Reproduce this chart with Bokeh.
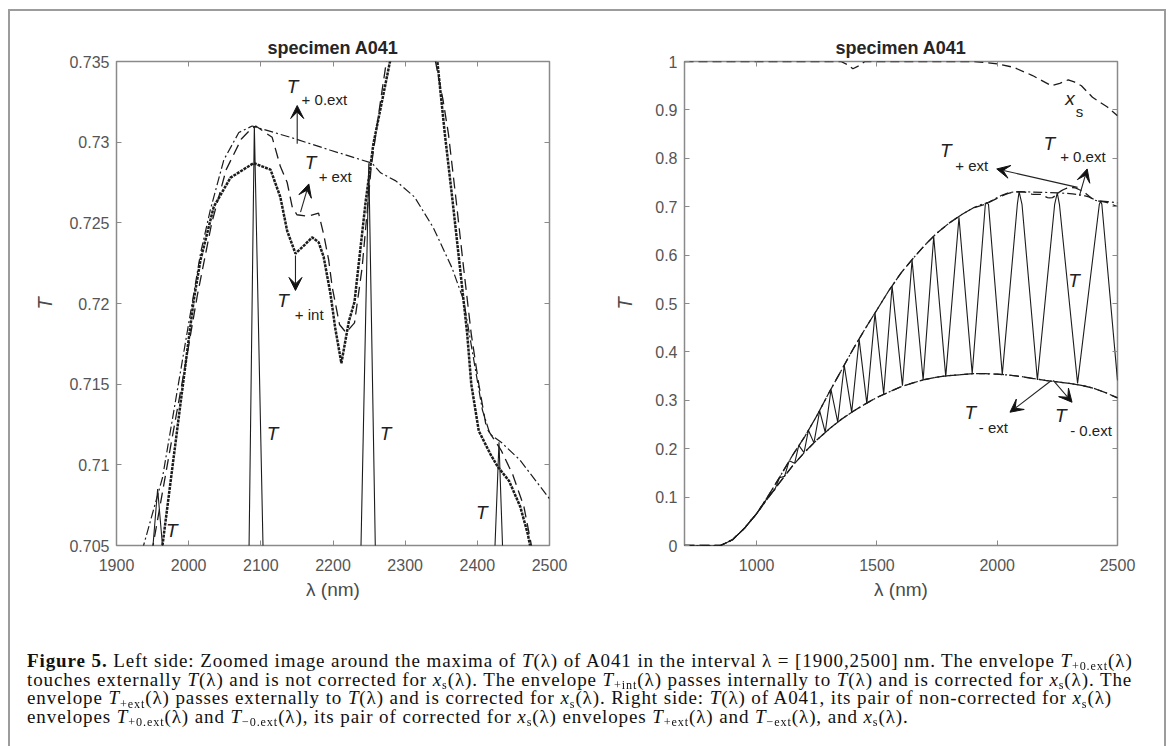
from bokeh.plotting import figure
from bokeh.models import (Range1d, FixedTicker, LinearAxis, CustomJSTickFormatter,
                          Label, Arrow, VeeHead, Div)
from bokeh.layouts import row, column
from bokeh.embed import file_html
from bokeh.resources import INLINE

# ---------------- data ----------------
left_x_ticks = [1900, 2000, 2100, 2200, 2300, 2400, 2500]
left_y_ticks = [0.705, 0.71, 0.715, 0.72, 0.725, 0.73, 0.735]
right_x_ticks = [1000, 1500, 2000, 2500]
right_y_ticks = [0, 0.1, 0.2, 0.3, 0.4, 0.5, 0.6, 0.7, 0.8, 0.9, 1]

# transmittance T(lambda): extrema and the 0.705 crossings seen in the zoom
lam_T = [700, 850, 900, 950, 1000, 1050, 1075, 1095, 1116, 1135, 1158, 1175, 1197,
         1215, 1238, 1262, 1285, 1309, 1337, 1364, 1395, 1426, 1458, 1492, 1528,
         1563, 1606, 1646, 1692, 1736, 1786, 1841, 1896, 1950.6, 1957, 1963.7,
         2021, 2083.7, 2091, 2103, 2167, 2238.8, 2249.6, 2258.6, 2334, 2424.5,
         2430, 2434.9, 2500]
T = [0, 0, 0.012, 0.036, 0.066, 0.102, 0.115, 0.140, 0.143, 0.175, 0.170, 0.207, 0.192,
     0.238, 0.212, 0.278, 0.234, 0.322, 0.255, 0.372, 0.275, 0.426, 0.293, 0.480, 0.313,
     0.536, 0.330, 0.590, 0.342, 0.638, 0.349, 0.678, 0.355, 0.705, 0.7085, 0.705,
     0.353, 0.705, 0.731, 0.705, 0.342, 0.705, 0.7287, 0.705, 0.335, 0.705,
     0.7114, 0.705, 0.341]

# upper envelope not corrected for xs : T+0.ext
lam_up0 = [700, 850, 900, 950, 1000, 1050, 1100, 1150, 1200, 1250, 1300, 1350, 1400,
           1450, 1500, 1550, 1600, 1650, 1700, 1750, 1800, 1850, 1900, 1937.5, 1963.7,
           2007, 2016.4, 2030, 2048.7, 2069.5, 2088, 2141, 2196.5, 2254, 2266, 2287, 2313,
           2339, 2365, 2381, 2397, 2407, 2417.6, 2433, 2459, 2500]
T_plus_0ext = [0, 0, 0.012, 0.036, 0.066, 0.104, 0.145, 0.187, 0.225, 0.268, 0.315, 0.360,
               0.405, 0.447, 0.487, 0.527, 0.563, 0.593, 0.621, 0.646, 0.666, 0.683, 0.6975,
               0.705, 0.7092, 0.7206, 0.7231, 0.7258, 0.7289, 0.7306, 0.7310, 0.7303, 0.7295,
               0.7287, 0.7281, 0.7276, 0.7266, 0.7247, 0.7222, 0.7202, 0.7160, 0.7134, 0.7119,
               0.7114, 0.7103, 0.7079]

# upper envelope corrected for xs, passing externally : T+ext
lam_up = [700, 850, 900, 950, 1000, 1050, 1100, 1150, 1200, 1250, 1300, 1350, 1400, 1450,
          1500, 1550, 1600, 1650, 1700, 1750, 1800, 1850, 1900, 1950.6, 1974, 1995, 2012,
          2032, 2052, 2073, 2086, 2093, 2115.7, 2127, 2136.5, 2143.4, 2150, 2165, 2180,
          2187, 2194, 2199, 2209, 2218, 2229.8, 2240.3, 2253, 2266, 2274, 2290, 2305,
          2325, 2342, 2352.5, 2360, 2370.6, 2381, 2391.6, 2402, 2412.6, 2433, 2449,
          2464.6, 2475, 2500]
T_plus_ext = [0, 0, 0.012, 0.036, 0.066, 0.104, 0.145, 0.187, 0.225, 0.268, 0.315, 0.360,
              0.405, 0.447, 0.487, 0.527, 0.563, 0.593, 0.621, 0.646, 0.666, 0.683, 0.6975,
              0.705, 0.7109, 0.7161, 0.7205, 0.7250, 0.7283, 0.7302, 0.7308, 0.7310, 0.7303,
              0.7285, 0.7275, 0.7260, 0.7255, 0.7254, 0.7256, 0.7243, 0.7227, 0.7210, 0.7187,
              0.7182, 0.7188, 0.7222, 0.7285, 0.7326, 0.7350, 0.7385, 0.7400, 0.7390, 0.7350,
              0.7326, 0.7305, 0.7264, 0.7222, 0.7181, 0.7150, 0.7123, 0.7109, 0.7094, 0.7074,
              0.7050, 0.7000]

# upper envelope corrected for xs, passing internally : T+int
lam_int = [1963.7, 1985, 2007, 2016.4, 2034.8, 2058, 2090, 2113.4, 2127, 2136.5, 2148,
           2160, 2171, 2180, 2187, 2196.5, 2203, 2211.6, 2222, 2229.8, 2235, 2245.5, 2256,
           2279, 2300, 2322, 2344.6, 2355, 2365.6, 2376, 2386, 2391.6, 2402, 2417.7, 2428,
           2444, 2459.5, 2470, 2473, 2490]
T_plus_int = [0.705, 0.7125, 0.7202, 0.7227, 0.7260, 0.7278, 0.7287, 0.7283, 0.7266, 0.7245,
              0.7231, 0.7236, 0.7241, 0.7238, 0.7229, 0.7206, 0.7185, 0.7163, 0.7189, 0.7201,
              0.7222, 0.7264, 0.7299, 0.7350, 0.7385, 0.7385, 0.7350, 0.7305, 0.7264, 0.7222,
              0.7181, 0.7150, 0.7121, 0.7107, 0.7099, 0.7090, 0.7074, 0.7057, 0.7050, 0.7020]

# lower envelopes : T-0.ext (not corrected) and T-ext (corrected)
lam_low = [700, 850, 900, 950, 1000, 1050, 1100, 1150, 1200, 1250, 1300, 1350, 1400, 1450,
           1500, 1550, 1600, 1650, 1700, 1750, 1800, 1850, 1900, 1950, 2000, 2050, 2100,
           2150, 2200, 2250, 2300, 2350, 2400, 2450, 2500]
T_minus_0ext = [0, 0, 0.012, 0.036, 0.066, 0.100, 0.133, 0.165, 0.193, 0.218, 0.240, 0.260,
                0.277, 0.292, 0.306, 0.317, 0.328, 0.336, 0.343, 0.348, 0.351, 0.353, 0.355,
                0.355, 0.354, 0.352, 0.349, 0.345, 0.341, 0.338, 0.335, 0.331, 0.325, 0.316,
                0.305]
T_minus_ext = [0, 0, 0.012, 0.036, 0.066, 0.100, 0.133, 0.165, 0.193, 0.218, 0.240, 0.260,
               0.277, 0.292, 0.306, 0.317, 0.328, 0.336, 0.343, 0.348, 0.351, 0.353, 0.355,
               0.355, 0.354, 0.352, 0.349, 0.345, 0.341, 0.338, 0.335, 0.331, 0.325, 0.316,
               0.305]

# correction factor xs(lambda)
lam_xs = [700, 1350, 1380, 1400, 1420, 1450, 1900, 1950, 2000, 2068, 2147, 2225, 2260,
          2295, 2320, 2350, 2396, 2458, 2500]
xs = [1.0, 1.0, 0.993, 0.985, 0.990, 1.0, 1.0, 0.998, 0.995, 0.988, 0.971, 0.950, 0.955,
      0.962, 0.958, 0.950, 0.926, 0.906, 0.888]

# ---------------- styling ----------------
FONT = "Liberation Sans"
LINE = "#1c1c1c"
AX = "#8a8a8a"
TXT = "#555555"
FMT = "return String(parseFloat(tick.toFixed(4)));"


def make_panel(width, bl, br, xr, yr, xt, yt, ylab_standoff):
    p = figure(width=width, height=620, x_range=Range1d(*xr), y_range=Range1d(*yr),
               output_backend="svg", toolbar_location=None, title="specimen A041",
               min_border_left=bl, min_border_right=br, min_border_top=61,
               min_border_bottom=75, outline_line_color=AX, outline_line_width=1.5,
               background_fill_color="white", border_fill_color="white")
    p.grid.visible = False
    p.title.align = "center"
    p.title.text_font = FONT
    p.title.text_font_size = "18px"
    p.title.text_font_style = "bold"
    p.title.text_color = "#262626"
    p.title.standoff = 8
    xa, ya = p.xaxis[0], p.yaxis[0]
    for ax, ticks in ((xa, xt), (ya, yt)):
        ax.ticker = FixedTicker(ticks=ticks)
        ax.formatter = CustomJSTickFormatter(code=FMT)
        ax.axis_line_color = None
        ax.major_tick_line_color = AX
        ax.major_tick_in = 5
        ax.major_tick_out = 0
        ax.minor_tick_line_color = None
        ax.major_label_text_font = FONT
        ax.major_label_text_font_size = "16px"
        ax.major_label_text_color = TXT
        ax.axis_label_text_font = FONT
        ax.axis_label_text_color = "#4a4a4a"
    xa.axis_label = "λ (nm)"
    xa.axis_label_text_font_size = "19px"
    xa.axis_label_text_font_style = "normal"
    xa.major_label_standoff = 13
    xa.axis_label_standoff = 5
    ya.axis_label = "T"
    ya.axis_label_text_font_size = "20px"
    ya.axis_label_text_font_style = "italic"
    ya.major_label_standoff = 7
    ya.axis_label_standoff = ylab_standoff
    for loc, ticks in (("above", xt), ("right", yt)):
        ax = LinearAxis(ticker=FixedTicker(ticks=ticks),
                        formatter=CustomJSTickFormatter(code="return '';"),
                        axis_line_color=None, major_tick_line_color=AX,
                        major_tick_in=5, major_tick_out=0, minor_tick_line_color=None,
                        major_label_standoff=0)
        p.add_layout(ax, loc)
    return p


def label(p, x, y, text, size="19px", style="italic"):
    p.add_layout(Label(x=x, y=y, text=text, text_font=FONT, text_font_size=size,
                       text_font_style=style, text_color="#222222",
                       text_align="center", text_baseline="middle"))


def arrow(p, x0, y0, x1, y1):
    p.add_layout(Arrow(end=VeeHead(size=13, fill_color="#111111", line_color="#111111"),
                       x_start=x0, y_start=y0, x_end=x1, y_end=y1,
                       line_color="#222222", line_width=1.1))


SUB = "15px"

# ---------------- left panel ----------------
p1 = make_panel(600, 116, 51, (1900, 2500), (0.705, 0.735), left_x_ticks, left_y_ticks, 10)
p1.line(lam_T, T, line_color=LINE, line_width=1.1)
p1.line(lam_up0, T_plus_0ext, line_color=LINE, line_width=1.2, line_dash="9 3 2 3")
p1.line(lam_up, T_plus_ext, line_color=LINE, line_width=1.3, line_dash="11 6")
p1.line(lam_int, T_plus_int, line_color=LINE, line_width=2.5, line_dash="3 1")

label(p1, 2143.9, 0.73345, "T")
label(p1, 2188, 0.73262, "+ 0.ext", SUB, "normal")
arrow(p1, 2150.4, 0.7299, 2150.4, 0.73227)
label(p1, 2168.8, 0.72876, "T")
label(p1, 2203, 0.72786, "+ ext", SUB, "normal")
arrow(p1, 2155, 0.72566, 2166.5, 0.72741)
label(p1, 2130.7, 0.72019, "T")
label(p1, 2167, 0.71929, "+ int", SUB, "normal")
arrow(p1, 2148, 0.72298, 2148, 0.72081)
label(p1, 1976.8, 0.70593, "T")
label(p1, 2116.2, 0.71192, "T")
label(p1, 2272.7, 0.71192, "T")
label(p1, 2406.3, 0.70706, "T")

# ---------------- right panel ----------------
p2 = make_panel(571, 84, 54, (700, 2500), (0, 1), right_x_ticks, right_y_ticks, 16)
p2.line(lam_T, T, line_color=LINE, line_width=1.1)
p2.line(lam_up0, T_plus_0ext, line_color=LINE, line_width=1.2, line_dash="9 3 2 3")
p2.line(lam_up, T_plus_ext, line_color=LINE, line_width=1.3, line_dash="10 5")
p2.line(lam_low, T_minus_0ext, line_color=LINE, line_width=1.2, line_dash="9 3 2 3")
p2.line(lam_low, T_minus_ext, line_color=LINE, line_width=1.3, line_dash="10 5")
p2.line(lam_xs, xs, line_color=LINE, line_width=1.3, line_dash="9 5")

label(p2, 2303, 0.923, "x")
label(p2, 2342, 0.896, "s", SUB, "normal")
label(p2, 1786, 0.816, "T")
label(p2, 1894, 0.786, "+ ext", SUB, "normal")
label(p2, 2217, 0.830, "T")
label(p2, 2356, 0.803, "+ 0.ext", SUB, "normal")
arrow(p2, 2334, 0.740, 1998, 0.778)
arrow(p2, 2342, 0.723, 2374, 0.778)
label(p2, 2319, 0.5475, "T")
label(p2, 1888, 0.2754, "T")
label(p2, 1984, 0.243, "- ext", SUB, "normal")
label(p2, 2264, 0.2686, "T")
label(p2, 2390, 0.238, "- 0.ext", SUB, "normal")
arrow(p2, 2225, 0.341, 2053, 0.2754)
arrow(p2, 2233, 0.341, 2311, 0.296)

# ---------------- caption ----------------
SUBSTYLE = 'font-size:64%;vertical-align:baseline;position:relative;top:0.28em;line-height:0'


def T_(sub):
    return f'<i>T</i><span style="{SUBSTYLE}">{sub}</span>(λ)'


XS = f'<i>x</i><span style="{SUBSTYLE}">s</span>(λ)'
lines = [
    f'<b>Figure 5.</b> Left side: Zoomed image around the maxima of <i>T</i>(λ) of A041 in the interval λ = [1900,2500] nm. The envelope {T_("+0.ext")}',
    f'touches externally <i>T</i>(λ) and is not corrected for {XS}. The envelope {T_("+int")} passes internally to <i>T</i>(λ) and is corrected for {XS}. The',
    f'envelope {T_("+ext")} passes externally to <i>T</i>(λ) and is corrected for {XS}. Right side: <i>T</i>(λ) of A041, its pair of non-corrected for {XS}',
    f'envelopes {T_("+0.ext")} and {T_("−0.ext")}, its pair of corrected for {XS} envelopes {T_("+ext")} and {T_("−ext")}, and {XS}.',
]
body = "".join(f'<div style="white-space:nowrap;height:18.6px;line-height:18.6px">{l}</div>' for l in lines)
border = ('<div style="position:fixed;left:8px;top:9px;width:1158px;height:900px;'
          'border:2px solid #9c9c9c;border-bottom:none;box-sizing:border-box;'
          'pointer-events:none"></div>')
cap = Div(text=border + '<div style="padding-top:27px;padding-left:22px;'
          'font-family:\'Liberation Serif\';font-size:19px;letter-spacing:0.9px;'
          'color:#111">' + body + '</div>',
          width=1171, height=126)

layout = column(row(p1, p2), cap)
with open("out.html", "w", encoding="utf-8") as f:
    f.write(file_html(layout, INLINE))
